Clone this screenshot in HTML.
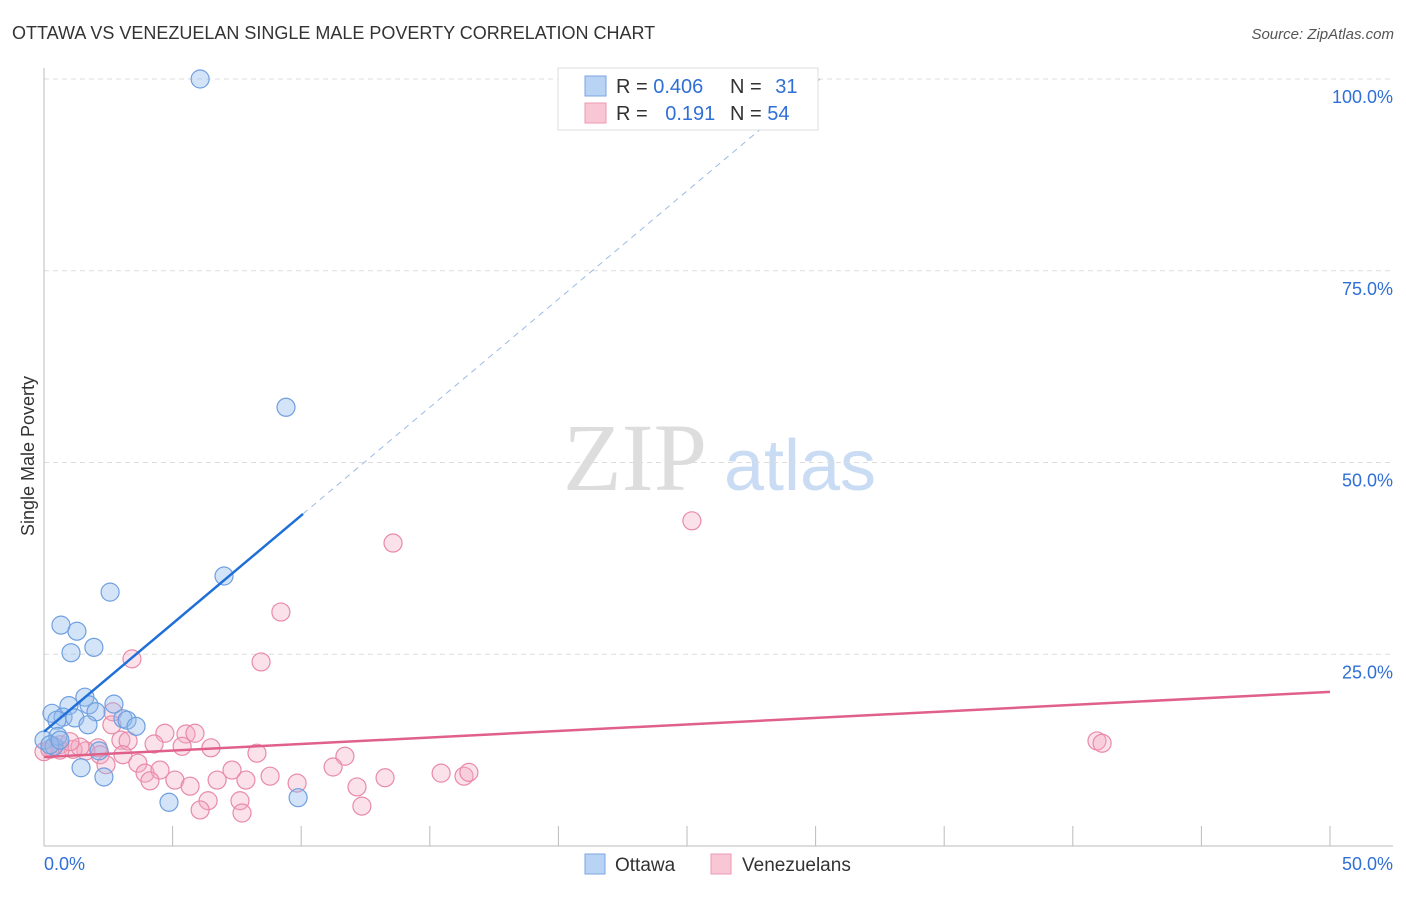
<!DOCTYPE html>
<html><head><meta charset="utf-8"><style>
body{margin:0;background:#fff;font-family:"Liberation Sans",sans-serif}
</style></head><body>
<svg id="c" width="1406" height="892" xmlns="http://www.w3.org/2000/svg" style="font-family:'Liberation Sans',sans-serif">
<text x="12" y="39" font-size="18" fill="#333">OTTAWA VS VENEZUELAN SINGLE MALE POVERTY CORRELATION CHART</text>
<text x="1394" y="39" font-size="15" fill="#555" font-style="italic" text-anchor="end">Source: ZipAtlas.com</text>
<text x="635" y="490" font-size="96" fill="#ddd" font-family="Liberation Serif,serif" text-anchor="middle">ZIP</text>
<text x="800" y="490" font-size="72" fill="#c9dcf3" text-anchor="middle">atlas</text>
<text transform="translate(34,456) rotate(-90)" font-size="18" fill="#333" text-anchor="middle">Single Male Poverty</text>
<g id="grid"></g><g id="pts"></g><g id="lines"></g>
<g>
<rect x="558" y="68" width="260" height="62" fill="#fff" stroke="#ddd"/>
<rect x="585" y="76" width="21" height="20" fill="#b9d3f5" stroke="#7aa6e2"/>
<rect x="585" y="103" width="21" height="20" fill="#f9c6d5" stroke="#ec9ab3"/>
<text x="616" y="93" font-size="20" fill="#333">R = <tspan fill="#2f6fd6">0.406</tspan></text>
<text x="730" y="93" font-size="20" fill="#333">N = <tspan fill="#2f6fd6" dx="8">31</tspan></text>
<text x="616" y="120" font-size="20" fill="#333">R = <tspan fill="#2f6fd6" dx="12">0.191</tspan></text>
<text x="730" y="120" font-size="20" fill="#333">N = <tspan fill="#2f6fd6">54</tspan></text>
</g>
<g>
<rect x="585" y="854" width="20" height="20" fill="#b9d3f5" stroke="#7aa6e2"/>
<text x="615" y="871" font-size="19" fill="#333">Ottawa</text>
<rect x="711" y="854" width="20" height="20" fill="#f9c6d5" stroke="#ec9ab3"/>
<text x="742" y="871" font-size="19" fill="#333">Venezuelans</text>
</g>
</svg>
<script>
const yTicks=[25,50,75,100];
const xTickLabels=["0.0%","50.0%"];
const ottX=[6.07,9.41,7.0,2.57,0.66,1.28,1.05,1.94,1.59,0.97,1.75,2.72,0.31,2.02,0.74,1.2,0.5,3.07,3.23,3.58,1.71,0,0.39,0.54,0.23,2.14,1.44,2.33,4.86,9.88,0.62];
const ottY=[100,57.2,35.2,33.1,28.8,28.0,25.2,25.9,19.4,18.3,18.4,18.5,17.3,17.5,16.8,16.7,16.4,16.6,16.4,15.6,15.8,13.8,13.0,14.3,13.2,12.4,10.2,9.0,5.7,6.3,13.8];
const venX=[25.19,13.57,9.21,8.44,3.42,40.94,41.14,2.68,4.7,5.52,5.87,2.99,4.28,5.37,6.49,3.27,2.1,1.63,0.62,0.31,1.13,2.18,3.65,2.41,3.93,4.51,11.7,8.28,11.24,7.31,8.79,6.73,9.84,13.26,15.44,16.33,16.52,5.09,4.12,5.68,7.85,12.17,6.38,7.62,6.07,7.7,12.36,0.62,0,0.23,1.4,1.01,3.07,2.64];
const venY=[42.4,39.5,30.5,24.0,24.4,13.7,13.4,17.5,14.7,14.6,14.7,13.8,13.3,13.0,12.8,13.7,12.8,12.4,13.2,12.8,12.6,11.9,10.8,10.6,9.5,9.9,11.7,12.1,10.3,9.9,9.1,8.6,8.2,8.9,9.5,9.1,9.6,8.6,8.5,7.8,8.6,7.7,5.9,5.9,4.7,4.3,5.2,12.5,12.3,12.6,12.9,13.6,11.9,15.8];
const ottTrend=[14.9,2.82];
const venTrend=[11.6,0.17];
const X=v=>44+v/50*1286, Y=v=>846-v*7.67;
const NS="http://www.w3.org/2000/svg";
function mk(p,t,a){const e=document.createElementNS(NS,t);for(const k in a)e.setAttribute(k,a[k]);p.appendChild(e);return e;}
const g=document.getElementById('grid');
yTicks.forEach(t=>{
 const l=mk(g,'line',{x1:44,x2:1393,y1:Y(t),y2:Y(t),stroke:'#ddd','stroke-dasharray':'5,4'});
 
 
 const tx=mk(g,'text',{x:1393,y:Y(t)+24,'font-size':18,fill:'#2f6fd6','text-anchor':'end'});tx.textContent=t.toFixed(1)+'%';
 
 
});
const ax=mk(g,'line',{x1:44,x2:44,y1:68,y2:846,stroke:'#bbb'});


const bx=mk(g,'line',{x1:44,x2:1393,y1:846,y2:846,stroke:'#bbb'});


for(let i=0;i<=10;i++){const t=mk(g,'line',{x1:X(i*5),x2:X(i*5),y1:826,y2:846,stroke:'#bbb'});
 
 }
[[0,'start',44],[50,'end',1393]].forEach((d,i)=>{const t=mk(g,'text',{x:d[2],y:870,'font-size':18,fill:'#2f6fd6','text-anchor':d[1]});t.textContent=xTickLabels[i];
 
 });
const P=document.getElementById('pts');
venX.forEach((v,i)=>{const c=mk(P,'circle',{cx:X(v),cy:Y(venY[i]),r:9,fill:'rgba(244,170,195,0.35)',stroke:'#e88aa8','stroke-width':1.2});
 
 });
ottX.forEach((v,i)=>{const c=mk(P,'circle',{cx:X(v),cy:Y(ottY[i]),r:9,fill:'rgba(147,187,237,0.4)',stroke:'#6f9fe0','stroke-width':1.2});
 
 });
const L=document.getElementById('lines');
const xEnd=(100-ottTrend[0])/ottTrend[1];
const l1=mk(L,'line',{x1:X(0),y1:Y(ottTrend[0]),x2:X(10.07),y2:Y(ottTrend[0]+ottTrend[1]*10.07),stroke:'#1f6fd8','stroke-width':2.5});


const l2=mk(L,'line',{x1:X(10.07),y1:Y(ottTrend[0]+ottTrend[1]*10.07),x2:X(xEnd),y2:Y(100),stroke:'#9bbbe6','stroke-width':1,'stroke-dasharray':'6,5'});


const l3=mk(L,'line',{x1:X(0),y1:Y(venTrend[0]),x2:X(50),y2:Y(venTrend[0]+venTrend[1]*50),stroke:'#e0608a','stroke-width':2.5});


</script>
</body></html>
